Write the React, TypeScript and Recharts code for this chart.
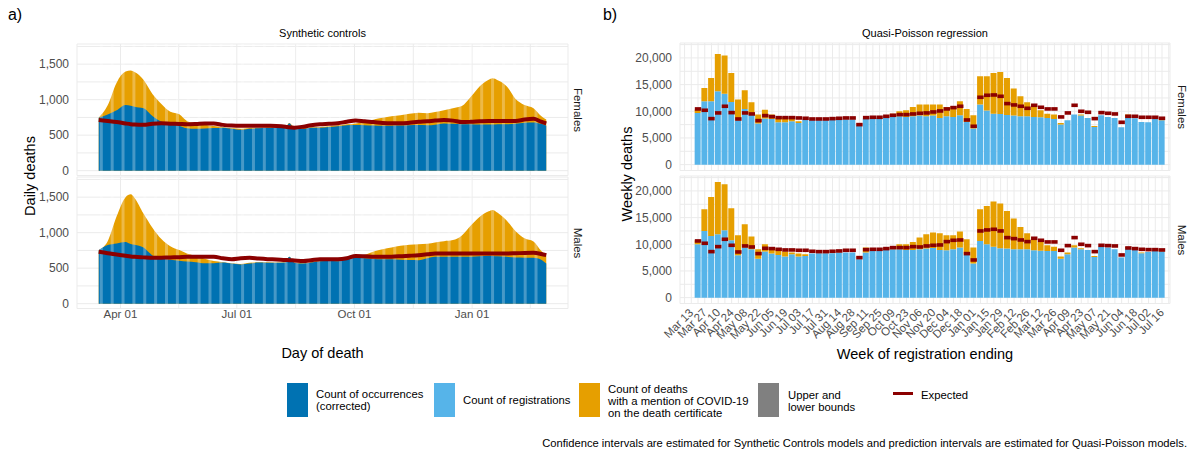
import React from 'react';
import { ComposedChart, Area, Bar, Line, XAxis, YAxis, CartesianGrid, ReferenceLine } from 'recharts';

// ---- a) Synthetic controls: daily deaths (days since 2020-03-01) ----
const dayOffsets = [14, 21, 28, 35, 39, 42, 49, 56, 63, 70, 77, 83, 90, 97, 104, 111, 118, 125, 132, 139, 146, 153, 160, 163, 167, 174, 180, 187, 194, 201, 208, 215, 222, 229, 236, 243, 250, 257, 264, 271, 277, 284, 291, 298, 305, 312, 319, 322, 326, 333, 340, 347, 354, 360, 364];

const femDailyCovid = [746, 920, 1240, 1395, 1410, 1390, 1280, 1080, 940, 830, 795, 700, 668, 645, 628, 612, 600, 590, 600, 605, 610, 612, 615, 670, 610, 600, 610, 615, 625, 640, 655, 665, 685, 720, 745, 765, 780, 800, 815, 810, 825, 850, 880, 910, 1040, 1190, 1280, 1300, 1275, 1190, 1010, 925, 880, 770, 720];
const femDailyOcc = [746, 790, 850, 925, 915, 900, 880, 770, 690, 665, 630, 598, 590, 595, 600, 605, 590, 575, 590, 597, 600, 600, 605, 668, 592, 590, 605, 606, 615, 625, 640, 643, 640, 635, 632, 634, 636, 640, 643, 640, 648, 665, 660, 655, 653, 650, 652, 651, 655, 653, 660, 675, 680, 660, 634];
const femDailyExp = [714, 700, 685, 665, 655, 650, 645, 660, 667, 662, 658, 654, 658, 665, 665, 645, 635, 632, 634, 634, 632, 630, 620, 610, 606, 620, 640, 653, 660, 668, 690, 708, 695, 685, 672, 667, 667, 675, 688, 695, 705, 713, 705, 684, 688, 695, 700, 700, 700, 700, 700, 720, 730, 690, 667];

const maleDailyCovid = [754, 880, 1230, 1500, 1540, 1490, 1270, 1070, 910, 810, 755, 705, 670, 632, 600, 585, 570, 560, 575, 585, 585, 580, 585, 660, 580, 570, 585, 605, 608, 605, 628, 648, 685, 735, 765, 790, 815, 830, 837, 845, 862, 880, 895, 960, 1100, 1225, 1300, 1320, 1280, 1170, 1020, 920, 875, 745, 680];
const maleDailyOcc = [754, 825, 849, 870, 840, 830, 790, 680, 640, 618, 605, 593, 585, 568, 570, 580, 565, 552, 565, 580, 578, 575, 580, 660, 578, 566, 580, 599, 600, 599, 625, 645, 640, 630, 627, 625, 620, 615, 613, 640, 660, 662, 660, 660, 662, 668, 674, 672, 668, 660, 650, 648, 645, 620, 566];
const maleDailyExp = [730, 710, 693, 675, 665, 660, 652, 645, 648, 652, 655, 660, 660, 660, 660, 640, 627, 640, 645, 635, 627, 622, 615, 613, 608, 600, 610, 627, 627, 627, 640, 672, 668, 662, 660, 662, 668, 675, 683, 695, 706, 707, 707, 707, 707, 706, 706, 706, 707, 707, 710, 714, 716, 700, 683];

const dayTickDays = [31, 122, 214, 306];
const dayTickLabels = ['Apr 01', 'Jul 01', 'Oct 01', 'Jan 01'];
const dayMinorDays = [76.5, 168, 260, 351.5];
const dailyYTicks = [0, 250, 500, 750, 1000, 1250, 1500, 1750];

// ---- b) Quasi-Poisson: weekly deaths, week ending 2020-03-20 ... 2021-07-16 ----
const weekLabels = ['Mar 13', 'Mar 27', 'Apr 10', 'Apr 24', 'May 08', 'May 22', 'Jun 05', 'Jun 19', 'Jul 03', 'Jul 17', 'Jul 31', 'Aug 14', 'Aug 28', 'Sep 11', 'Sep 25', 'Oct 09', 'Oct 23', 'Nov 06', 'Nov 20', 'Dec 04', 'Dec 18', 'Jan 01', 'Jan 15', 'Jan 29', 'Feb 12', 'Feb 26', 'Mar 12', 'Mar 26', 'Apr 09', 'Apr 23', 'May 07', 'May 21', 'Jun 04', 'Jun 18', 'Jul 02', 'Jul 16'];

const femWeekRegs = [9700, 11875, 11875, 13750, 13300, 11750, 8300, 10440, 9375, 7690, 8625, 8560, 7940, 7940, 8125, 7810, 8440, 8310, 8310, 8310, 8440, 8560, 8440, 8440, 7310, 8625, 8690, 8750, 8875, 9060, 9060, 8940, 9060, 9190, 9060, 9190, 8750, 9060, 8940, 9250, 8000, 6750, 11250, 10125, 9560, 9500, 9310, 9190, 9060, 9060, 8940, 8875, 8750, 8560, 7500, 8310, 9375, 9190, 8750, 7060, 9250, 8940, 8750, 7000, 8750, 8690, 8000, 7940, 8560, 8310];
const femWeekTotal = [10300, 14375, 16250, 20750, 20440, 17190, 12190, 13940, 11690, 9375, 10310, 9375, 8750, 8940, 8690, 8125, 8440, 8310, 8310, 8310, 8440, 8940, 8440, 8440, 7310, 8625, 8690, 8750, 9060, 9560, 10000, 10190, 10810, 11250, 11250, 11250, 11250, 10810, 10940, 11875, 10440, 9250, 16560, 16560, 17190, 17375, 16250, 14250, 12810, 11690, 11250, 10190, 9560, 9375, 7810, 8310, 9375, 9375, 8750, 7250, 9250, 8940, 8750, 7000, 9375, 8690, 8000, 7940, 8560, 8500];
const femWeekExp = [10440, 10190, 8625, 9690, 10940, 9750, 8560, 9690, 9500, 8250, 9190, 9000, 8810, 8810, 8810, 8750, 8690, 8560, 8560, 8560, 8625, 8690, 8750, 8750, 7500, 8810, 8875, 8875, 9060, 9250, 9375, 9375, 9500, 9625, 9690, 9875, 10060, 10440, 10690, 10940, 8375, 7190, 12625, 13000, 13060, 12810, 11440, 11190, 10940, 10560, 11125, 10750, 10440, 10440, 8940, 9690, 11125, 10000, 9810, 8625, 9750, 9625, 9500, 7940, 9060, 9060, 8875, 8875, 8875, 8690];

const maleWeekRegs = [10000, 12500, 11560, 11875, 12625, 10750, 7940, 9375, 9060, 7310, 8625, 8250, 8000, 7690, 8125, 7690, 7810, 8250, 8310, 8310, 8310, 8440, 8440, 8440, 7190, 8440, 8750, 8810, 8940, 9060, 9060, 8940, 8940, 9060, 9190, 9310, 8940, 8875, 9060, 9375, 8125, 6375, 10625, 10000, 9560, 9250, 9190, 9060, 9060, 9060, 8875, 8810, 8750, 8750, 7310, 8125, 9375, 9060, 8940, 7625, 9560, 9375, 9060, 7500, 9250, 9060, 8310, 8560, 8940, 8690];
const maleWeekTotal = [10750, 16560, 18875, 21690, 21250, 16750, 11690, 13750, 11440, 9060, 10000, 9375, 9250, 8625, 8440, 8250, 8125, 8250, 8310, 8310, 8310, 8440, 8440, 8440, 7190, 9375, 8750, 8810, 9250, 9560, 10000, 10000, 10440, 11250, 11875, 12190, 12060, 11690, 11690, 12375, 10940, 9375, 16560, 17190, 18000, 17625, 16250, 14810, 13250, 12060, 10940, 10440, 9810, 9560, 7690, 8440, 9810, 9250, 8940, 7810, 9560, 9375, 9060, 7500, 9500, 9060, 8440, 8560, 8940, 9060];
const maleWeekExp = [10625, 10190, 8625, 9560, 10940, 9810, 8560, 9690, 9500, 8250, 9250, 9190, 9060, 8940, 8940, 8875, 8875, 8690, 8625, 8625, 8690, 8750, 8875, 8875, 7500, 9000, 9060, 9060, 9190, 9375, 9375, 9375, 9560, 9500, 9690, 9810, 9875, 10500, 10750, 10810, 8250, 7060, 12500, 12690, 12810, 12500, 11250, 11060, 10810, 10500, 11125, 10750, 10440, 10440, 8875, 9750, 11250, 10000, 9750, 8625, 9810, 9750, 9690, 8000, 9310, 9190, 9060, 9000, 9000, 8940];

const weeklyYTicks = [0, 2500, 5000, 7500, 10000, 12500, 15000, 17500, 20000, 22500];

const C = {
  occ: '#0072B2',
  regs: '#56B4E9',
  covid: '#E69F00',
  bounds: '#808080',
  expected: '#8B0000',
  grid: '#EBEBEB',
  tick: '#4D4D4D',
};
const FONT = '"Liberation Sans", Arial, sans-serif';

const dailyRows = (covid: number[], occ: number[], exp: number[]) =>
  dayOffsets.map((day, i) => ({ day, covid: covid[i], occ: occ[i], expected: exp[i] }));
const weeklyRows = (regs: number[], total: number[], exp: number[]) =>
  regs.map((r, i) => ({ idx: i, regs: r, covid: Math.max(0, total[i] - r), expected: exp[i] }));

const femDaily = dailyRows(femDailyCovid, femDailyOcc, femDailyExp);
const maleDaily = dailyRows(maleDailyCovid, maleDailyOcc, maleDailyExp);
const femWeekly = weeklyRows(femWeekRegs, femWeekTotal, femWeekExp);
const maleWeekly = weeklyRows(maleWeekRegs, maleWeekTotal, maleWeekExp);

// light stripes that the thin daily bars leave in the original
const stripeDays = Array.from({ length: 41 }, (_, i) => 16 + i * 8.5);

const dayTicks = [...dayTickDays, ...dayMinorDays].sort((a, b) => a - b);
const weekTicks = Array.from({ length: 73 }, (_, i) => i - 2);
const weekLabelAt = new Map(weekLabels.map((l, k) => [2 * k - 1, l]));

const fmtDailyY = (v: number) => (v % 500 === 0 ? v.toLocaleString('en-US') : '');
const fmtWeeklyY = (v: number) => (v % 5000 === 0 ? v.toLocaleString('en-US') : '');
const fmtDay = (v: number) => {
  const k = dayTickDays.indexOf(v);
  return k >= 0 ? dayTickLabels[k] : '';
};

const WeekTick = (props: any) => {
  const { x, y, payload } = props;
  const label = weekLabelAt.get(payload.value);
  if (!label) return <g />;
  return (
    <text
      x={x}
      y={y}
      dy="0.35em"
      textAnchor="end"
      transform={`rotate(-45 ${x} ${y})`}
      fill={C.tick}
      fontSize={11.5}
      fontFamily={FONT}
    >
      {label}
    </text>
  );
};

const renderDash = (props: any) => {
  const { cx, cy, index } = props;
  if (cx == null || cy == null) return <g key={index} />;
  return <rect key={index} x={cx - 3.2} y={cy - 1.8} width={6.4} height={3.6} fill={C.expected} />;
};

function DailyPanel({ data, showX, height }: { data: any[]; showX: boolean; height: number }) {
  return (
    <ComposedChart width={568} height={height} data={data} margin={{ top: 0, right: 0, bottom: 0, left: 0 }}>
      <CartesianGrid stroke={C.grid} strokeWidth={1} />
      <XAxis
        type="number"
        dataKey="day"
        domain={[-3, 381]}
        allowDataOverflow
        ticks={dayTicks}
        interval={0}
        hide={!showX}
        height={showX ? 24 : 0}
        axisLine={false}
        tickLine={false}
        tickSize={1}
        tickMargin={0}
        tickFormatter={fmtDay}
        tick={{ fill: C.tick, fontSize: 11.5, fontFamily: FONT }}
      />
      <YAxis
        type="number"
        domain={[-68, 1784]}
        allowDataOverflow
        ticks={dailyYTicks}
        interval={0}
        width={77}
        axisLine={false}
        tickLine={false}
        tickFormatter={fmtDailyY}
        tick={{ fill: C.tick, fontSize: 12, fontFamily: FONT }}
      />
      <Area type="monotone" dataKey="covid" stroke="none" fill={C.covid} fillOpacity={1} isAnimationActive={false} />
      <Area type="monotone" dataKey="occ" stroke="none" fill={C.occ} fillOpacity={1} isAnimationActive={false} />
      {stripeDays.map((d) => (
        <ReferenceLine key={d} x={d} stroke="#ffffff" strokeOpacity={0.28} strokeWidth={3} />
      ))}
      <Line type="monotone" dataKey="expected" stroke={C.expected} strokeWidth={4} dot={false} activeDot={false} isAnimationActive={false} />
    </ComposedChart>
  );
}

function WeeklyPanel({ data, showX, height }: { data: any[]; showX: boolean; height: number }) {
  return (
    <ComposedChart width={570} height={height} data={data} margin={{ top: 0, right: 0, bottom: 0, left: 0 }}>
      <CartesianGrid stroke={C.grid} strokeWidth={1} />
      <XAxis
        type="number"
        dataKey="idx"
        domain={[-2.68, 70.19]}
        allowDataOverflow
        ticks={weekTicks}
        interval={0}
        hide={!showX}
        height={showX ? 60 : 0}
        axisLine={false}
        tickLine={false}
        tickSize={7}
        tickMargin={0}
        tick={WeekTick}
      />
      <YAxis
        type="number"
        domain={[-1100, 22800]}
        allowDataOverflow
        ticks={weeklyYTicks}
        interval={0}
        width={80}
        axisLine={false}
        tickLine={false}
        tickFormatter={fmtWeeklyY}
        tick={{ fill: C.tick, fontSize: 12, fontFamily: FONT }}
      />
      <Bar dataKey="regs" stackId="w" fill={C.regs} barSize={6} isAnimationActive={false} />
      <Bar dataKey="covid" stackId="w" fill={C.covid} barSize={6} isAnimationActive={false} />
      <Line dataKey="expected" stroke="none" dot={renderDash} activeDot={false} isAnimationActive={false} />
    </ComposedChart>
  );
}

const Label = ({ x, y, children, size = 12, rotate = 0, color = '#000', anchor = 'center' }: any) => (
  <div
    style={{
      position: 'absolute',
      left: x,
      top: y,
      transform: `translate(${anchor === 'right' ? '-100%' : anchor === 'left' ? '0' : '-50%'}, -50%) rotate(${rotate}deg)`,
      transformOrigin: 'center',
      whiteSpace: 'nowrap',
      fontSize: size,
      color,
      lineHeight: 1,
    }}
  >
    {children}
  </div>
);

const LegendText = ({ x, y, lines }: { x: number; y: number; lines: string[] }) => (
  <div
    style={{
      position: 'absolute',
      left: x,
      top: y,
      transform: 'translateY(-50%)',
      fontSize: 11.3,
      lineHeight: '12px',
      color: '#000',
      whiteSpace: 'nowrap',
    }}
  >
    {lines.map((l) => (
      <div key={l}>{l}</div>
    ))}
  </div>
);

const Key = ({ x, color }: { x: number; color: string }) => (
  <div style={{ position: 'absolute', left: x, top: 383, width: 21, height: 34, background: color }} />
);

export default function App() {
  return (
    <div
      style={{
        position: 'absolute',
        left: 0,
        top: 0,
        width: 1195,
        height: 454,
        background: '#fff',
        fontFamily: FONT,
        overflow: 'hidden',
      }}
    >
      <style>{`.recharts-surface { overflow: visible; }`}</style>
      <Label x={15} y={15} size={16}>a)</Label>
      <Label x={610} y={15} size={16}>b)</Label>

      <Label x={322.5} y={33} size={11}>Synthetic controls</Label>
      <Label x={925} y={33} size={11}>Quasi-Poisson regression</Label>

      <div style={{ position: 'absolute', left: 0, top: 44 }}>
        <DailyPanel data={femDaily} showX={false} height={131.5} />
      </div>
      <div style={{ position: 'absolute', left: 0, top: 177 }}>
        <DailyPanel data={maleDaily} showX={true} height={155.5} />
      </div>

      <div style={{ position: 'absolute', left: 600, top: 43.4 }}>
        <WeeklyPanel data={femWeekly} showX={false} height={127.5} />
      </div>
      <div style={{ position: 'absolute', left: 600, top: 176.1 }}>
        <WeeklyPanel data={maleWeekly} showX={true} height={187.5} />
      </div>

      <Label x={577} y={110} size={11.5} rotate={90} color="#1A1A1A">Females</Label>
      <Label x={577} y={243} size={11.5} rotate={90} color="#1A1A1A">Males</Label>
      <Label x={1181} y={107} size={11.5} rotate={90} color="#1A1A1A">Females</Label>
      <Label x={1181} y={240} size={11.5} rotate={90} color="#1A1A1A">Males</Label>

      <Label x={30} y={176} size={14.5} rotate={-90}>Daily deaths</Label>
      <Label x={627} y={173.5} size={14.5} rotate={-90}>Weekly deaths</Label>
      <Label x={322.5} y={353} size={14.5}>Day of death</Label>
      <Label x={925} y={354} size={14.5}>Week of registration ending</Label>

      <Key x={287} color={C.occ} />
      <LegendText x={316} y={400} lines={['Count of occurrences', '(corrected)']} />
      <Key x={434} color={C.regs} />
      <LegendText x={463} y={400} lines={['Count of registrations']} />
      <Key x={579} color={C.covid} />
      <LegendText x={608} y={401} lines={['Count of deaths', 'with a mention of COVID-19', 'on the death certificate']} />
      <Key x={758} color={C.bounds} />
      <LegendText x={788} y={400.5} lines={['Upper and', 'lower bounds']} />
      <div style={{ position: 'absolute', left: 893, top: 392, width: 20, height: 3.4, background: C.expected }} />
      <LegendText x={921} y={395} lines={['Expected']} />

      <Label x={1187} y={444} size={11.2} anchor="right">
        Confidence intervals are estimated for Synthetic Controls models and prediction intervals are estimated for Quasi-Poisson models.
      </Label>
    </div>
  );
}
